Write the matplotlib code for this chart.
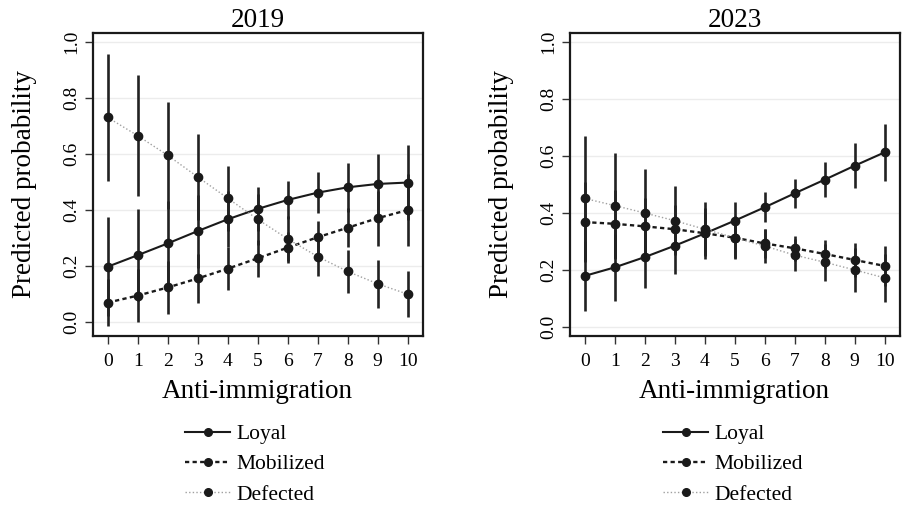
import matplotlib
matplotlib.use("Agg")
import matplotlib.pyplot as plt
from matplotlib.lines import Line2D
import numpy as np

plt.rcParams['font.family'] = ['Liberation Serif', 'DejaVu Serif']

x_vals = list(range(11))
x_ticks = list(range(11))
y_ticks = [0.0, 0.2, 0.4, 0.6, 0.8, 1.0]
titles = ["2019", "2023"]
series_names = ["Loyal", "Mobilized", "Defected"]

# 2019
loyal_2019 = [0.198, 0.239, 0.281, 0.325, 0.367, 0.404, 0.436, 0.462, 0.481, 0.493, 0.498]
loyal_2019_ci = [0.176, 0.165, 0.150, 0.130, 0.100, 0.079, 0.069, 0.072, 0.088, 0.108, 0.133]
mob_2019 = [0.070, 0.095, 0.124, 0.156, 0.191, 0.228, 0.266, 0.303, 0.337, 0.371, 0.400]
mob_2019_ci = [0.085, 0.095, 0.095, 0.088, 0.077, 0.065, 0.056, 0.058, 0.070, 0.098, 0.127]
def_2019 = [0.730, 0.665, 0.595, 0.518, 0.442, 0.367, 0.297, 0.234, 0.181, 0.137, 0.100]
def_2019_ci = [0.225, 0.215, 0.190, 0.154, 0.115, 0.090, 0.080, 0.070, 0.077, 0.085, 0.083]

# 2023
loyal_2023 = [0.178, 0.208, 0.244, 0.284, 0.327, 0.372, 0.419, 0.468, 0.516, 0.565, 0.612]
loyal_2023_ci = [0.123, 0.117, 0.109, 0.099, 0.090, 0.067, 0.052, 0.051, 0.061, 0.080, 0.099]
mob_2023 = [0.367, 0.361, 0.352, 0.342, 0.328, 0.312, 0.292, 0.275, 0.255, 0.234, 0.213]
mob_2023_ci = [0.140, 0.120, 0.100, 0.085, 0.075, 0.072, 0.050, 0.043, 0.049, 0.061, 0.070]
def_2023 = [0.450, 0.425, 0.399, 0.372, 0.342, 0.312, 0.283, 0.251, 0.226, 0.199, 0.171]
def_2023_ci = [0.219, 0.186, 0.153, 0.122, 0.094, 0.075, 0.058, 0.055, 0.065, 0.076, 0.083]

panels = [
    [(loyal_2019, loyal_2019_ci), (mob_2019, mob_2019_ci), (def_2019, def_2019_ci)],
    [(loyal_2023, loyal_2023_ci), (mob_2023, mob_2023_ci), (def_2023, def_2023_ci)],
]

DARK = '#1a1a1a'
styles = [
    dict(color=DARK, lw=1.5, linestyle='-'),
    dict(color=DARK, lw=1.7, linestyle=(0, (1.8, 1.4))),
    dict(color='#a0a0a0', lw=1.0, linestyle=(0, (1, 1.6))),
]

fig = plt.figure(figsize=(9.02, 5.07), dpi=100)
W, H = 902, 507
ax_lefts = [92.7, 569.7]
ylims = [(-0.049, 1.031), (-0.033, 1.031)]
legend_x = [185, 663]

for p in range(2):
    ax = fig.add_axes([ax_lefts[p] / W, 1 - 336 / H, 330 / W, 303 / H])
    for i, (vals, ci) in enumerate(panels[p]):
        v = np.array(vals)
        c = np.array(ci)
        ax.vlines(x_vals, v - c, v + c, color='#222222', lw=1.9, zorder=3)
    for i, (vals, ci) in enumerate(panels[p]):
        st = styles[i]
        ax.plot(x_vals, vals, color=st['color'], lw=st['lw'], linestyle=st['linestyle'], zorder=4)
        ax.plot(x_vals, vals, linestyle='none', marker='o', ms=6, color=DARK,
                markeredgecolor=DARK, zorder=5)
    ax.set_xlim(-0.5, 10.5)
    ax.set_ylim(*ylims[p])
    ax.set_xticks(x_ticks)
    ax.set_yticks(y_ticks)
    ax.set_yticklabels([f"{t:.1f}" for t in y_ticks], rotation=90, va='center')
    ax.tick_params(axis='both', labelsize=14, length=5.5, width=1, color='#333333')
    ax.tick_params(axis='x', pad=7)
    ax.tick_params(axis='y', pad=3.5)
    ax.grid(axis='y', color='#ececec', lw=1)
    ax.set_axisbelow(True)
    for s in ax.spines.values():
        s.set_linewidth(1.6)
        s.set_color(DARK)
    ax.set_title(titles[p], fontsize=19.5, pad=3)
    ax.set_xlabel("Anti-immigration", fontsize=19.5, labelpad=6.5)
    ax.set_ylabel("Predicted probability", fontsize=19.5, labelpad=19)

    handles = [Line2D([], [], color=styles[i]['color'], lw=styles[i]['lw'],
                      linestyle=styles[i]['linestyle'], marker='o', ms=5.5,
                      markerfacecolor=DARK, markeredgecolor=DARK)
               for i in range(3)]
    fig.legend(handles, series_names, loc='upper left',
               bbox_to_anchor=(legend_x[p] / W, 1 - 424 / H),
               frameon=False, fontsize=15.5, handlelength=2.1, handletextpad=0.3,
               labelspacing=0.48, borderpad=0, borderaxespad=0)

fig.savefig("out.png", dpi=100)
